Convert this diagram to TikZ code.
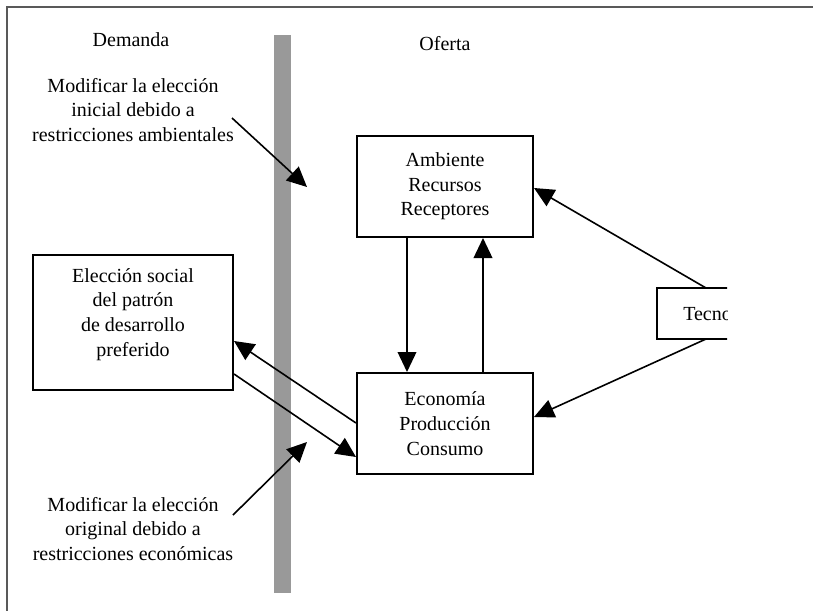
\documentclass[tikz,border=0pt]{standalone}
\usepackage{fontspec}
\setmainfont{Liberation Serif}
\usetikzlibrary{arrows.meta,calc}
\newcommand{\diafont}{\fontsize{15}{18.5}\selectfont}
\begin{document}
\begin{tikzpicture}[x=0.75pt,y=-0.75pt,
  box/.style={draw,line width=1.5pt,align=center,font=\diafont,inner sep=0pt},
  txt/.style={align=center,font=\diafont,inner sep=0pt},
  arr/.style={line width=1.2pt,-{Triangle[length=15pt,width=14pt]}},
  frameline/.style={draw=black!65,line width=0.8pt}]
\useasboundingbox (0,0) rectangle (813,611);
% frame
\coordinate (ftl) at (7,7);
\coordinate (ftr) at (813,7);
\coordinate (fbl) at (7,611);
\draw[frameline] (ftr) -- (ftl) -- (fbl);
% gray divider
\fill[black!40] (274,35) rectangle (291,593);
% headings
\node[txt] (dem) at (131,40) {Demanda};
\node[txt] (ofe) at (445,44) {Oferta};
% boxes
\node[box,minimum width=132pt,minimum height=75.75pt] (amb) at (445,186.5) {Ambiente\\Recursos\\Receptores};
\node[box,minimum width=132pt,minimum height=75.75pt] (eco) at (445,423.5) {Economía\\Producción\\Consumo};
\node[box,minimum width=150pt,minimum height=101.25pt] (elec) at (133,322.5) {};
\node[txt] (electxt) at (133,314.5) {Elección social\\del patrón\\de desarrollo\\preferido};
% Tecno box (clipped at right)
\begin{scope}
\clip (0,0) rectangle (727,611);
\node[draw,line width=1.5pt,font=\diafont,minimum width=120pt,minimum height=38.25pt,inner sep=0pt] (tec) at (737,313.5) {};
\node[txt,anchor=west] (tectxt) at (683,314) {Tecno};
\end{scope}
\coordinate (tectop) at (706,288);
\coordinate (tecbot) at (706,339);
% annotations
\node[txt] (ann1) at (133,110) {Modificar la elección\\inicial debido a\\restricciones ambientales};
\node[txt] (ann2) at (133,529) {Modificar la elección\\original debido a\\restricciones económicas};
\coordinate (a1s) at (232,118);
\coordinate (a1e) at (307,187);
\coordinate (a2s) at (233,515);
\coordinate (a2e) at (307,442);
\draw[arr] (a1s) -- (a1e);
\draw[arr] (a2s) -- (a2e);
% vertical arrows between amb and eco
\draw[arr] ($(amb.south)+(-38,0)$) -- ($(eco.north)+(-38,0)$);
\draw[arr] ($(eco.north)+(38,0)$) -- ($(amb.south)+(38,0)$);
% eco <-> elec
\draw[arr] ($(eco.west)+(0,-0.5)$) -- ($(elec.east)+(0,18.5)$);
\draw[arr] ($(elec.east)+(0,51.5)$) -- ($(eco.west)+(0,33.5)$);
% tecno arrows
\draw[arr] (tectop) -- ($(amb.east)+(0,1.5)$);
\draw[arr] (tecbot) -- ($(eco.east)+(0,-6.5)$);
\end{tikzpicture}
\end{document}
